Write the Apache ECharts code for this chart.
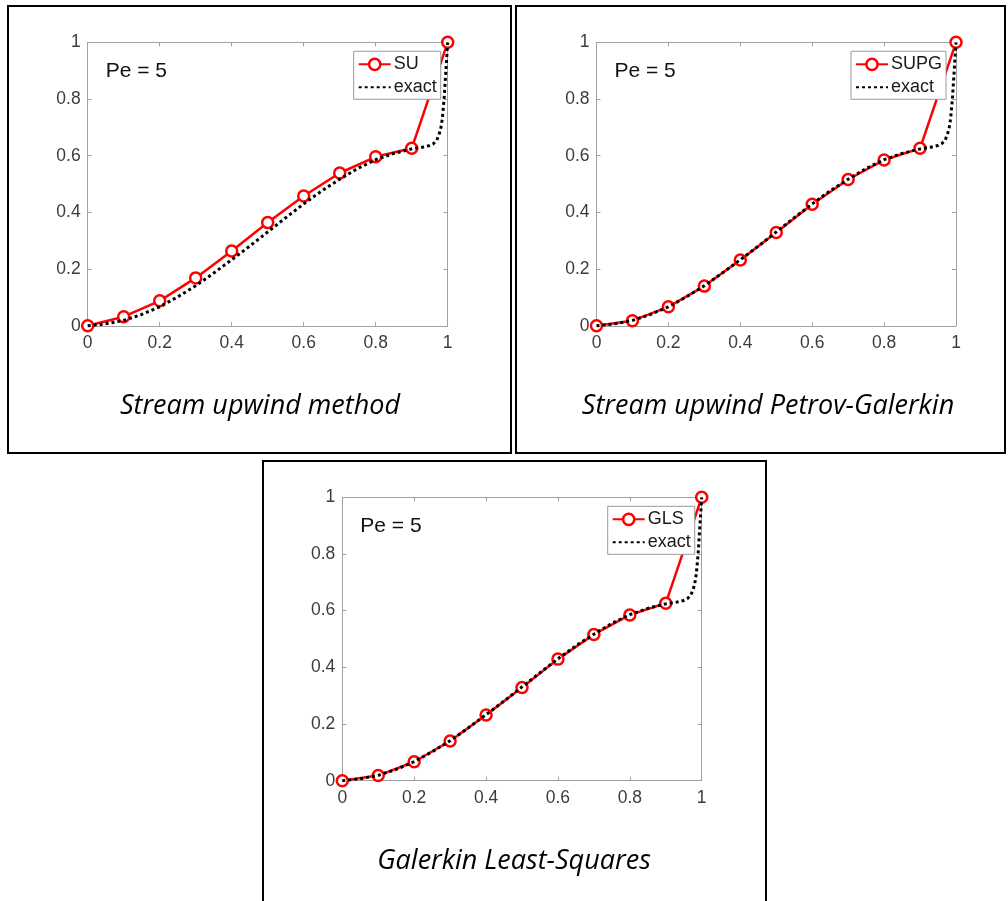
<!DOCTYPE html>
<html><head><meta charset="utf-8">
<script src="https://cdn.jsdelivr.net/npm/echarts@6/dist/echarts.min.js"></script>
<style>html,body{margin:0;padding:0;background:#fff}#c{width:1008px;height:901px}</style>
</head><body><div id="c"></div>
<script>
// ---- data ----
const xNodes = [0, 0.1, 0.2, 0.3, 0.4, 0.5, 0.6, 0.7, 0.8, 0.9, 1];
const suValues = [0, 0.032, 0.088, 0.169, 0.264, 0.364, 0.458, 0.539, 0.596, 0.626, 1];
const supgValues = [0, 0.018, 0.067, 0.140, 0.232, 0.329, 0.429, 0.516, 0.585, 0.626, 1];
const glsValues = [0, 0.018, 0.067, 0.140, 0.232, 0.329, 0.429, 0.516, 0.585, 0.626, 1];
const exactX = [0, 0.05, 0.1, 0.15, 0.2, 0.25, 0.3, 0.35, 0.4, 0.45, 0.5, 0.55, 0.6, 0.65, 0.7, 0.75, 0.8, 0.85, 0.9, 0.93, 0.95, 0.96, 0.97, 0.98, 0.985, 0.99, 0.995, 1];
const exactY = [0, 0.007, 0.019, 0.040, 0.067, 0.102, 0.141, 0.186, 0.233, 0.281, 0.331, 0.381, 0.430, 0.476, 0.517, 0.555, 0.586, 0.608, 0.624, 0.630, 0.636, 0.642, 0.655, 0.690, 0.730, 0.800, 0.900, 1];
const tickValues = [0, 0.2, 0.4, 0.6, 0.8, 1];
const methodNames = ['SU', 'SUPG', 'GLS'];
const captions = ['Stream upwind method', 'Stream upwind Petrov-Galerkin', 'Galerkin Least-Squares'];
const annotation = 'Pe = 5';
const exactName = 'exact';

// ---- layout ----
const panels = [
  {frame: [8, 6, 503, 447], grid: [87.7, 42.3, 360, 283.5], caption: [260, 406], values: suValues},
  {frame: [516, 6, 489, 447], grid: [596.5, 42.3, 359.5, 283.5], caption: [768, 406], values: supgValues},
  {frame: [263, 461, 503, 445], grid: [342.3, 497.3, 359.4, 283.4], caption: [514, 861], values: glsValues}
];

const grids = [], xAxes = [], yAxes = [], series = [], legends = [], graphics = [];
const axisGray = '#a0a0a0';
const labelColor = '#3c3c3c';
const pair = (xs, ys) => xs.map((x, i) => [x, ys[i]]);
const lineOpt = {show: true, onZero: false, lineStyle: {color: axisGray, width: 1}};
const tickOpt = {show: true, inside: true, length: 4, lineStyle: {color: axisGray}};

panels.forEach((p, i) => {
  const [gl, gt, gw, gh] = p.grid;
  grids.push({left: gl, top: gt, width: gw, height: gh, show: false, containLabel: false});
  const xi = xAxes.length, yi = yAxes.length;
  xAxes.push({
    type: 'value', gridIndex: i, min: 0, max: 1, interval: 0.2, position: 'bottom',
    axisLine: lineOpt, axisTick: tickOpt,
    axisLabel: {color: labelColor, fontFamily: 'Liberation Sans, Arial', fontSize: 17.5, margin: 8},
    splitLine: {show: false}
  });
  xAxes.push({
    type: 'value', gridIndex: i, min: 0, max: 1, interval: 0.2, position: 'top',
    axisLine: lineOpt, axisTick: tickOpt,
    axisLabel: {show: false}, splitLine: {show: false}
  });
  yAxes.push({
    type: 'value', gridIndex: i, min: 0, max: 1, interval: 0.2, position: 'left',
    axisLine: lineOpt, axisTick: tickOpt,
    axisLabel: {color: labelColor, fontFamily: 'Liberation Sans, Arial', fontSize: 17.5, margin: 7},
    splitLine: {show: false}
  });
  yAxes.push({
    type: 'value', gridIndex: i, min: 0, max: 1, interval: 0.2, position: 'right',
    axisLine: lineOpt, axisTick: tickOpt,
    axisLabel: {show: false}, splitLine: {show: false}
  });
  series.push({
    id: 'm' + i, name: methodNames[i], type: 'line', xAxisIndex: xi, yAxisIndex: yi,
    data: pair(xNodes, p.values), symbol: 'circle', symbolSize: 11, clip: false,
    lineStyle: {color: '#ff0000', width: 2.5},
    itemStyle: {color: '#ffffff', borderColor: '#ff0000', borderWidth: 2.5},
    z: 2, animation: false
  });
  series.push({
    id: 'e' + i, name: exactName + '\u200b'.repeat(i), type: 'line', xAxisIndex: xi, yAxisIndex: yi,
    data: pair(exactX, exactY), symbol: 'none', clip: false,
    lineStyle: {color: '#000000', width: 3, type: [3, 3]},
    itemStyle: {color: '#000000'},
    z: 3, animation: false
  });
  legends.push({
    data: [
      {name: methodNames[i], itemStyle: {color: '#fff', borderColor: '#ff0000', borderWidth: 2.5}},
      {name: exactName + '\u200b'.repeat(i), itemStyle: {color: 'rgba(0,0,0,0)', borderWidth: 0, opacity: 0}}
    ],
    orient: 'vertical', left: gl + gw - 8 - (i === 1 ? 97 : 86), top: gt + 9,
    backgroundColor: '#ffffff', borderColor: '#9a9a9a', borderWidth: 1,
    padding: [4, 4, 3, 4], itemGap: 5, itemWidth: 32, itemHeight: 14,
    selectedMode: false,
    textStyle: {color: '#1a1a1a', fontFamily: 'Liberation Sans, Arial', fontSize: 18, padding: [0, 0, 0, -2]}
  });
  // frame
  const [fx, fy, fw, fh] = p.frame;
  graphics.push({type: 'rect', shape: {x: fx, y: fy, width: fw, height: fh},
    style: {fill: 'none', stroke: '#000', lineWidth: 2}, silent: true, z: 0});
  // annotation
  graphics.push({type: 'text', x: gl + 18, y: gt + 29,
    style: {text: annotation, fill: '#111', font: '21px "Liberation Sans", Arial', verticalAlign: 'middle'}, z: 10});
  // caption
  graphics.push({type: 'text', x: p.caption[0], y: p.caption[1],
    style: {text: captions[i], fill: '#000', font: 'italic 27px "Open Sans"', align: 'center', verticalAlign: 'middle'}, z: 10});
});

const chart = echarts.init(document.getElementById('c'), null, {renderer: 'canvas'});
chart.setOption({
  animation: false,
  backgroundColor: '#ffffff',
  grid: grids, xAxis: xAxes, yAxis: yAxes, series: series, legend: legends, graphic: graphics
});
</script></body></html>
